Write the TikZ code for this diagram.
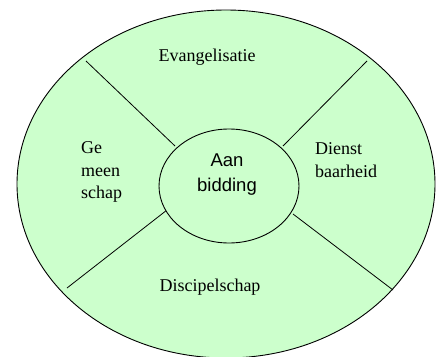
\documentclass[tikz,border=0pt]{standalone}
\usepackage{fontspec}
\setmainfont{Liberation Serif}
\setsansfont{Liberation Sans}
\definecolor{leaf}{HTML}{CCFFCC}
\begin{document}
\begin{tikzpicture}[x=1pt,y=-1pt,
  ring/.style={draw=black,line width=0.9pt,fill=leaf},
  divider/.style={draw=black,line width=0.8pt},
  lbl/.style={font=\fontsize{18}{22.5}\selectfont,inner sep=0pt},
  mid/.style={font=\sffamily\fontsize{18.5}{25}\selectfont,inner sep=0pt,align=center}]
\useasboundingbox (0,0) rectangle (436,356);
\fill[white] (0,0) rectangle (436,356);
\path[ring] (226,184) ellipse [x radius=209, y radius=174];
% dividers
\coordinate (ula) at (86,61);   \coordinate (ulb) at (175,146);
\coordinate (ura) at (367,61);  \coordinate (urb) at (283,146);
\coordinate (lla) at (67,288);  \coordinate (llb) at (167,210);
\coordinate (lra) at (393,290); \coordinate (lrb) at (293,214);
\draw[divider] (ula) -- (ulb);
\draw[divider] (ura) -- (urb);
\draw[divider] (lla) -- (llb);
\draw[divider] (lra) -- (lrb);
\path[ring] (229,186) ellipse [x radius=70, y radius=57];
\node[lbl] (evan) at (207,57) {Evangelisatie};
\node[lbl,align=left,anchor=west] (gem) at (81,172) {Ge\\meen\\schap};
\node[lbl,align=left,anchor=west] (dien) at (315,160) {Dienst\\baarheid};
\node[lbl] (disc) at (210,287) {Discipelschap};
\node[mid] (aan) at (227,175) {Aan\\bidding};
\end{tikzpicture}
\end{document}
